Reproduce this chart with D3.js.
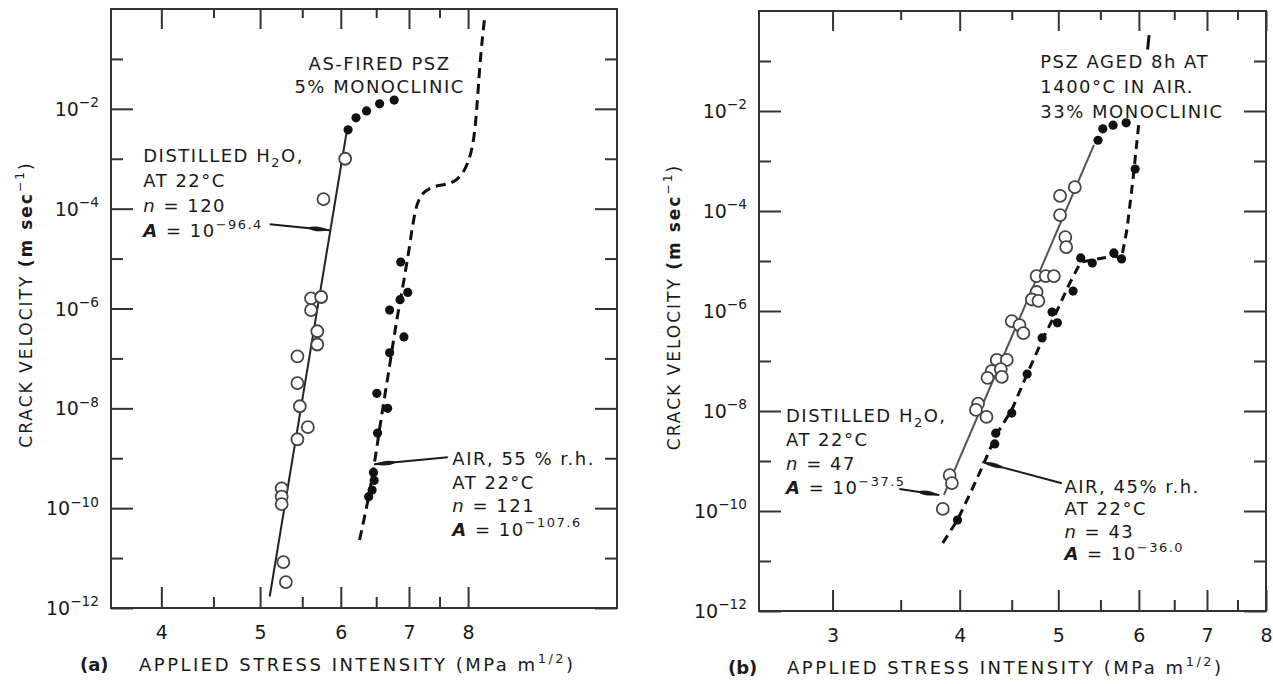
<!DOCTYPE html>
<html>
<head>
<meta charset="utf-8">
<script src="https://cdn.jsdelivr.net/npm/d3@7"></script>
<style>
  body { margin: 0; background: #fff; }
  svg { font-family: 'DejaVu Sans', sans-serif; }
  text { fill: #1a1a1a; }
</style>
</head>
<body>
<svg id="chart" width="1273" height="684"></svg>
<script>
// shared axis ticks (crack velocity, m/s)
const vMajor = [1e-2, 1e-4, 1e-6, 1e-8, 1e-10, 1e-12];
const vMinor = [1e-1, 1e-3, 1e-5, 1e-7, 1e-9, 1e-11];

// ---- (a) as-fired PSZ ----
const aKTicks = [4, 5, 6, 7, 8];
const aKMinor = [4.5, 5.5, 6.5, 7.5];

// distilled water, open circles [K, v]
const aWater = [
  [6.06, 1.0e-3], [5.77, 1.55e-4], [5.61, 1.6e-6], [5.74, 1.7e-6], [5.61, 9.3e-7],
  [5.69, 3.5e-7], [5.69, 1.9e-7], [5.44, 1.1e-7], [5.44, 3.2e-8], [5.47, 1.1e-8],
  [5.57, 4.2e-9], [5.44, 2.4e-9], [5.25, 2.5e-10], [5.25, 1.7e-10], [5.25, 1.2e-10],
  [5.27, 8.3e-12], [5.30, 3.3e-12]
];
const aWaterFit = [[5.11, 1.7e-12], [6.09, 4.2e-3]];

// air 55% r.h., filled dots
const aAir = [
  [6.10, 3.8e-3], [6.21, 6.6e-3], [6.36, 9.1e-3], [6.55, 1.26e-2], [6.77, 1.5e-2],
  [6.87, 8.5e-6], [6.98, 2.1e-6], [6.86, 1.5e-6], [6.70, 9.3e-7], [6.92, 2.7e-7],
  [6.70, 1.3e-7], [6.51, 2.0e-8], [6.67, 1.0e-8], [6.52, 3.2e-9], [6.46, 5.2e-10],
  [6.47, 3.6e-10], [6.44, 2.3e-10], [6.39, 1.7e-10]
];
const aAirCurve = [
  [6.26, 2.3e-11], [6.39, 1.7e-10], [6.48, 9.1e-10], [6.57, 5.8e-9], [6.69, 5.9e-8],
  [6.81, 5.9e-7], [6.92, 3.7e-6], [7.00, 1.5e-5], [7.06, 4.7e-5], [7.13, 1.2e-4],
  [7.22, 2.0e-4], [7.39, 2.7e-4], [7.61, 3.1e-4], [7.78, 3.7e-4], [7.93, 5.9e-4],
  [8.04, 1.2e-3], [8.11, 3.0e-3], [8.17, 1.5e-2], [8.21, 6.0e-2], [8.26, 0.24], [8.30, 0.60]
];

// ---- (b) PSZ aged 8h at 1400 C ----
const bKTicks = [3, 4, 5, 6, 7, 8];
const bKMinor = [3.5, 4.5, 5.5, 6.5, 7.5];

const bWater = [
  [5.19, 3.0e-4], [5.02, 2.0e-4], [5.02, 8.3e-5], [5.08, 3.0e-5], [5.09, 1.9e-5],
  [4.76, 5.0e-6], [4.86, 5.0e-6], [4.95, 5.0e-6], [4.76, 2.4e-6], [4.71, 1.7e-6],
  [4.78, 1.6e-6], [4.50, 6.3e-7], [4.58, 5.2e-7], [4.62, 3.6e-7], [4.35, 1.05e-7],
  [4.45, 1.05e-7], [4.30, 6.3e-8], [4.39, 6.9e-8], [4.26, 4.6e-8], [4.40, 4.8e-8],
  [4.17, 1.4e-8], [4.15, 1.05e-8], [4.25, 7.6e-9], [3.91, 5.2e-10], [3.93, 3.6e-10],
  [3.85, 1.1e-10]
];
const bWaterFit = [[3.86, 2.1e-10], [5.42, 2.1e-3]];

const bAir = [
  [5.47, 2.6e-3], [5.53, 4.4e-3], [5.66, 5.2e-3], [5.83, 5.8e-3], [5.95, 6.9e-4],
  [5.67, 1.45e-5], [5.77, 1.1e-5], [5.26, 1.15e-5], [5.40, 9.1e-6], [5.17, 2.5e-6],
  [4.93, 9.5e-7], [4.99, 5.8e-7], [4.82, 2.9e-7], [4.66, 5.5e-8], [4.50, 9.1e-9],
  [4.34, 3.6e-9], [4.33, 2.2e-9], [3.98, 6.6e-11]
];
const bAirCurve = [
  [3.85, 2.3e-11], [3.98, 6.6e-11], [4.11, 2.6e-10], [4.23, 9.5e-10], [4.34, 3.2e-9],
  [4.50, 1.05e-8], [4.66, 5.5e-8], [4.82, 2.6e-7], [4.99, 1.05e-6], [5.12, 3.3e-6],
  [5.26, 9.5e-6], [5.40, 1.05e-5], [5.67, 1.26e-5], [5.77, 1.15e-5], [5.84, 4.2e-5],
  [5.92, 4.2e-4], [6.00, 5.8e-3]
];
const bAirCurveTop = [[6.12, 0.17], [6.14, 0.33]];

const svg = d3.select('#chart');
svg.append('rect').attr('width', 1273).attr('height', 684).attr('fill', '#fff');

svg.append('defs').append('marker')
  .attr('id', 'arrow')
  .attr('viewBox', '0 -5 22 10')
  .attr('refX', 22).attr('refY', 0)
  .attr('markerWidth', 22).attr('markerHeight', 10)
  .attr('markerUnits', 'userSpaceOnUse')
  .attr('orient', 'auto')
  .append('path')
  .attr('d', 'M0,0 Q8,-4.5 22,0 Q8,4.5 0,0Z')
  .attr('fill', '#1a1a1a');

// text with sub/superscript pieces
function richText(sel, segs, size) {
  let shift = 0;
  segs.forEach(s => {
    const [txt, kind] = typeof s === 'string' ? [s, ''] : s;
    const target = kind === 'sup' ? -size * 0.45 : kind === 'sub' ? size * 0.3 : 0;
    const ts = sel.append('tspan').attr('dy', target - shift).text(txt);
    shift = target;
    if (kind === 'sup' || kind === 'sub') ts.attr('font-size', size * 0.72);
    if (kind === 'it') ts.attr('font-style', 'italic');
    if (kind === 'b') ts.attr('font-weight', 'bold');
    if (kind === 'bi') ts.attr('font-style', 'italic').attr('font-weight', 'bold');
  });
}

function textBlock(g, x, y, lines, lh, anchor) {
  lines.forEach((segs, i) => {
    const t = g.append('text')
      .attr('x', x).attr('y', y + i * lh)
      .attr('font-size', 18)
      .attr('letter-spacing', 1.5)
      .attr('text-anchor', anchor || 'start');
    richText(t, segs, 18);
  });
}

function drawPanel(p) {
  const x = d3.scaleLog().domain(p.kDomain).range([p.left, p.right]);
  const y = d3.scaleLog().domain([1e-12, 1]).range([p.bottom, p.top]);
  const g = svg.append('g');

  const tickStyle = sel => {
    sel.select('.domain').remove();
    sel.selectAll('.tick line').attr('stroke', '#333').attr('stroke-width', 2);
    sel.selectAll('text').attr('font-size', 19).attr('font-family', 'DejaVu Sans').attr('fill', '#1a1a1a');
  };

  // x ticks, bottom and top
  g.append('g').attr('transform', `translate(0,${p.bottom})`)
    .call(d3.axisBottom(x).tickValues(p.kTicks).tickSize(-21).tickPadding(18).tickFormat(d3.format('d')))
    .call(tickStyle);
  g.append('g').attr('transform', `translate(0,${p.bottom})`)
    .call(d3.axisBottom(x).tickValues(p.kMinor).tickSize(-11).tickFormat(''))
    .call(tickStyle);
  g.append('g').attr('transform', `translate(0,${p.top})`)
    .call(d3.axisTop(x).tickValues(p.kTicks).tickSize(-20).tickFormat(''))
    .call(tickStyle);
  g.append('g').attr('transform', `translate(0,${p.top})`)
    .call(d3.axisTop(x).tickValues(p.kMinor).tickSize(-9).tickFormat(''))
    .call(tickStyle);

  // y ticks, left and right
  [[d3.axisLeft, p.left], [d3.axisRight, p.right]].forEach(([ax, pos]) => {
    g.append('g').attr('transform', `translate(${pos},0)`)
      .call(ax(y).tickValues(vMajor).tickSize(-22).tickFormat(''))
      .call(tickStyle);
    g.append('g').attr('transform', `translate(${pos},0)`)
      .call(ax(y).tickValues(vMinor).tickSize(-12).tickFormat(''))
      .call(tickStyle);
  });

  // y tick labels 10^n
  g.selectAll('.ylab').data(vMajor).join('text')
    .attr('class', 'ylab')
    .attr('x', p.left - 12)
    .attr('y', d => y(d) + 7)
    .attr('text-anchor', 'end')
    .attr('font-size', 19)
    .each(function (d) {
      richText(d3.select(this), ['10', ['\u2212' + Math.round(-Math.log10(d)), 'sup']], 19);
    });

  // frame
  g.append('rect')
    .attr('x', p.left).attr('y', p.top)
    .attr('width', p.right - p.left).attr('height', p.bottom - p.top)
    .attr('fill', 'none').attr('stroke', '#333').attr('stroke-width', 2);

  // axis titles
  g.append('text')
    .attr('x', p.left - 31).attr('y', p.bottom + 63)
    .attr('font-size', 18).attr('font-weight', 'bold')
    .text(p.tag);
  const xt = g.append('text')
    .attr('x', p.left + 28).attr('y', p.bottom + 63)
    .attr('font-size', 18).attr('letter-spacing', 2.5);
  richText(xt, ['APPLIED STRESS INTENSITY (MPa m', ['1/2', 'sup'], ')'], 18);

  const yt = g.append('text')
    .attr('transform', `translate(${p.left - 79},${(p.top + p.bottom) / 2 - 4}) rotate(-90)`)
    .attr('text-anchor', 'middle')
    .attr('font-size', 17).attr('letter-spacing', 2);
  richText(yt, ['CRACK VELOCITY ', ['(m sec', 'b'], ['\u22121', 'sup'], ')'], 17);

  const line = d3.line().x(d => x(d[0])).y(d => y(d[1]));

  // fitted water line
  g.append('path').datum(p.waterFit)
    .attr('d', line).attr('fill', 'none')
    .attr('stroke', p.fitColor).attr('stroke-width', 2);

  // air curve, dashed
  p.airCurves.forEach(c => {
    g.append('path').datum(c.pts)
      .attr('d', line.curve(c.curve)(c.pts))
      .attr('fill', 'none').attr('stroke', '#111')
      .attr('stroke-width', 3).attr('stroke-dasharray', c.dash);
  });

  g.selectAll('.water').data(p.water).join('circle')
    .attr('class', 'water')
    .attr('cx', d => x(d[0])).attr('cy', d => y(d[1])).attr('r', 6)
    .attr('fill', '#fff').attr('stroke', '#444').attr('stroke-width', 1.8);

  g.selectAll('.air').data(p.air).join('circle')
    .attr('class', 'air')
    .attr('cx', d => x(d[0])).attr('cy', d => y(d[1])).attr('r', 4.6)
    .attr('fill', '#111');

  // annotations
  p.notes.forEach(n => {
    textBlock(g, x(n.at[0]), y(n.at[1]), n.lines, n.lh, n.anchor);
  });
  p.arrows.forEach(a => {
    g.append('line')
      .attr('x1', x(a.from[0])).attr('y1', y(a.from[1]))
      .attr('x2', x(a.to[0])).attr('y2', y(a.to[1]))
      .attr('stroke', '#1a1a1a').attr('stroke-width', 2)
      .attr('marker-end', 'url(#arrow)');
  });
}

drawPanel({
  tag: '(a)',
  left: 111, right: 617, top: 9, bottom: 608,
  kDomain: [3.57, 11.2],
  kTicks: aKTicks, kMinor: aKMinor,
  water: aWater, waterFit: aWaterFit, fitColor: '#222',
  air: aAir,
  airCurves: [{ pts: aAirCurve, curve: d3.curveCatmullRom, dash: '10,6' }],
  notes: [
    { at: [6.55, 0.06], anchor: 'middle', lh: 23, lines: [['AS-FIRED PSZ'], ['5% MONOCLINIC']] },
    { at: [3.84, 8.6e-4], lh: 25, lines: [
      ['DISTILLED H', ['2', 'sub'], 'O,'], ['AT 22\u00B0C'], [['n', 'it'], ' = 120'],
      [['A', 'bi'], ' = 10', ['\u221296.4', 'sup']]] },
    { at: [7.72, 7.3e-10], lh: 23.5, lines: [
      ['AIR, 55 % r.h.'], ['AT 22\u00B0C'], [['n', 'it'], ' = 121'],
      [['A', 'bi'], ' = 10', ['\u2212107.6', 'sup']]] }
  ],
  arrows: [
    { from: [5.11, 4.9e-5], to: [5.85, 3.7e-5] },
    { from: [7.64, 1.05e-9], to: [6.47, 7.6e-10] }
  ]
});

drawPanel({
  tag: '(b)',
  left: 759, right: 1266, top: 11, bottom: 611,
  kDomain: [2.54, 8],
  kTicks: bKTicks, kMinor: bKMinor,
  water: bWater, waterFit: bWaterFit, fitColor: '#555',
  air: bAir,
  airCurves: [
    { pts: bAirCurve, curve: d3.curveLinear, dash: '9,6' },
    { pts: bAirCurveTop, curve: d3.curveLinear, dash: 'none' }
  ],
  notes: [
    { at: [4.80, 0.072], lh: 25, lines: [['PSZ AGED 8h AT'], ['1400\u00B0C IN AIR.'], ['33% MONOCLINIC']] },
    { at: [2.70, 6.0e-9], lh: 24, lines: [
      ['DISTILLED H', ['2', 'sub'], 'O,'], ['AT 22\u00B0C'], [['n', 'it'], ' = 47'],
      [['A', 'bi'], ' = 10', ['\u221237.5', 'sup']]] },
    { at: [5.07, 2.3e-10], lh: 22.5, lines: [
      ['AIR, 45% r.h.'], ['AT 22\u00B0C'], [['n', 'it'], ' = 43'],
      [['A', 'bi'], ' = 10', ['\u221236.0', 'sup']]] }
  ],
  arrows: [
    { from: [3.49, 2.75e-10], to: [3.82, 2.1e-10] },
    { from: [5.04, 3.6e-10], to: [4.21, 9.5e-10] }
  ]
});
</script>
</body>
</html>
